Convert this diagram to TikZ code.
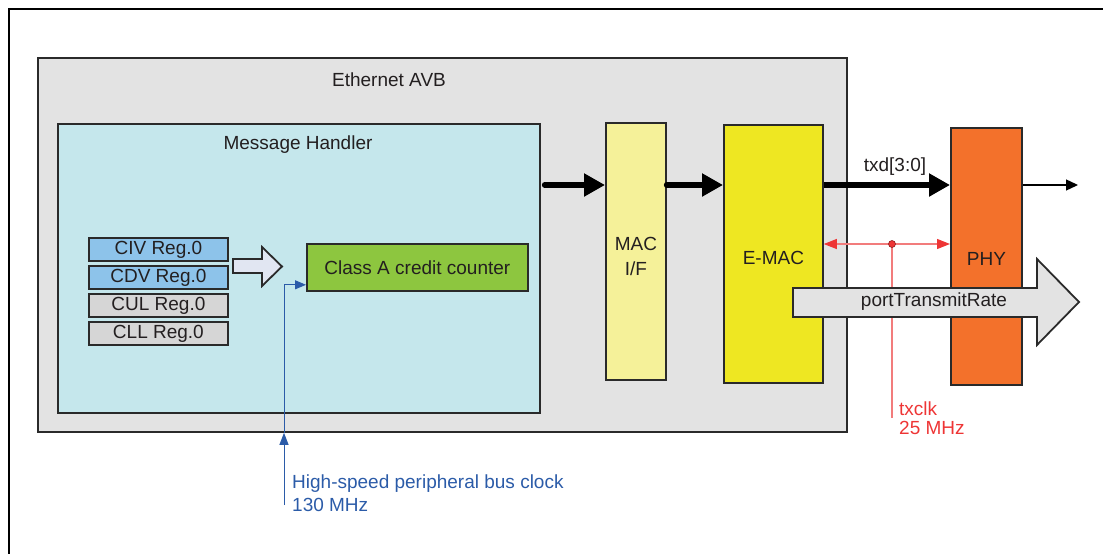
\documentclass[tikz,border=0pt]{standalone}
\usepackage{fontspec}
\setmainfont{Liberation Sans}
\usetikzlibrary{arrows.meta,calc}
\definecolor{avbgray}{HTML}{E3E3E3}
\definecolor{mhcyan}{HTML}{C5E7EC}
\definecolor{regblue}{HTML}{8DC3EA}
\definecolor{reggray}{HTML}{D6D6D6}
\definecolor{hollow}{HTML}{E1E6F2}
\definecolor{ccgreen}{HTML}{8DC63F}
\definecolor{macyel}{HTML}{F5F199}
\definecolor{emacyel}{HTML}{EEE722}
\definecolor{phyor}{HTML}{F3712B}
\definecolor{txtdark}{HTML}{231F20}
\definecolor{bordk}{HTML}{2A2A2A}
\definecolor{clkblue}{HTML}{2B5BA8}
\definecolor{clkred}{HTML}{EE3535}
\definecolor{clkredl}{HTML}{F27C7C}
\begin{document}
\begin{tikzpicture}[x=1pt,y=-1pt,
  every node/.style={font=\fontsize{19pt}{23pt}\selectfont, text=txtdark},
  box/.style={draw=bordk, line width=1.8pt, inner sep=0pt, anchor=north west},
  reg/.style={box, minimum width=139, minimum height=23},
  lbl/.style={inner sep=0pt},
  bus/.style={line width=6pt, line cap=round, -{Triangle[length=21pt,width=22pt]}},
  blueline/.style={draw=clkblue, line width=1pt},
  redline/.style={draw=clkredl, line width=1.2pt}
]
\useasboundingbox (0,0) rectangle (1103,554);
% outer frame
\draw[line width=2.2pt] (9,554) -- (9,9) -- (1103,9);

% main boxes
\node[box, fill=avbgray, minimum width=809, minimum height=374] (avb) at (37,57) {};
\node[lbl] (avbtxt) at (389,80) {Ethernet AVB};
\node[box, fill=mhcyan, minimum width=482, minimum height=289] (mh) at (57,123) {};
\node[lbl] (mhtxt) at (298,145) {Message Handler};

% registers
\node[reg, fill=regblue] (civ) at (88,237) {CIV Reg.0};
\node[reg, fill=regblue] (cdv) at (88,265) {CDV Reg.0};
\node[reg, fill=reggray] (cul) at (88,293) {CUL Reg.0};
\node[reg, fill=reggray] (cll) at (88,321) {CLL Reg.0};

% hollow arrow
\draw[draw=bordk, line width=1.8pt, fill=hollow, line join=miter]
  (233,259) -- (262,259) -- (262,247) -- (282,266.5) -- (262,286) -- (262,273) -- (233,273) -- cycle;

\node[box, fill=ccgreen, minimum width=221, minimum height=47] (cc) at (306,243) {Class A credit counter};

% blue clock
\coordinate (bclk) at (284,505);
\coordinate (ccin) at ($(cc.south west)+(0,-7)$);
\draw[blueline, -{Triangle[length=12pt,width=9pt]}] (bclk) -- (bclk |- avb.south);
\draw[blueline, -{Triangle[length=11pt,width=9pt]}] (bclk |- avb.south) |- (ccin);
\node[lbl, text=clkblue, anchor=north west, align=left] (bclktxt) at (292,475) {High-speed peripheral bus clock\\130 MHz};

% MAC, E-MAC, PHY
\node[box, fill=macyel, minimum width=60, minimum height=257] (mac) at (605,122) {};
\node[lbl, align=center, font=\fontsize{19pt}{25pt}\selectfont] (mactxt) at ($(mac.center)+(0,5)$) {MAC\\I/F};
\node[box, fill=emacyel, minimum width=99, minimum height=258] (emac) at (723,124) {};
\node[lbl] (emactxt) at ($(emac.center)+(0,4)$) {E-MAC};
\node[box, fill=phyor, minimum width=71, minimum height=257] (phy) at (950,127) {};
\node[lbl] (phytxt) at ($(phy.center)+(0,3)$) {PHY};

% data path
\coordinate (yA) at (0,185);
\coordinate (out) at (1078,185);
\draw[bus] ($(mh.east |- yA)+(4,0)$) -- (mac.west |- yA);
\draw[bus] (mac.east |- yA) -- (emac.west |- yA);
\draw[bus, line cap=butt] (emac.east |- yA) -- (phy.west |- yA);
\node[lbl] (txd) at (895,167) {txd[3:0]};
\draw[line width=1.3pt, -{Triangle[length=12pt,width=11pt]}] (phy.east |- yA) -- (out);

% txclk
\coordinate (yR) at (0,244);
\coordinate (dot) at (892,244);
\coordinate (txend) at (892,418);
\draw[redline] (dot) -- (txend);
\draw[redline, {Triangle[length=13pt,width=10pt,color=clkred]}-{Triangle[length=13pt,width=10pt,color=clkred]}]
  (emac.east |- yR) -- (phy.west |- yR);
\fill[clkred, draw=clkred!60!black, line width=0.6pt] (dot) circle (3.5);
\node[lbl, text=clkred, anchor=west, align=left, font=\fontsize{19pt}{19.5pt}\selectfont] (txclk) at (899,418) {txclk\\25 MHz};

% portTransmitRate
\draw[draw=bordk, line width=1.8pt, fill=avbgray, line join=miter]
  (793,288) -- (1037,288) -- (1037,259) -- (1079,302) -- (1037,345) -- (1037,317) -- (793,317) -- cycle;
\node[lbl] (ptr) at (934,302) {portTransmitRate};
\end{tikzpicture}
\end{document}
